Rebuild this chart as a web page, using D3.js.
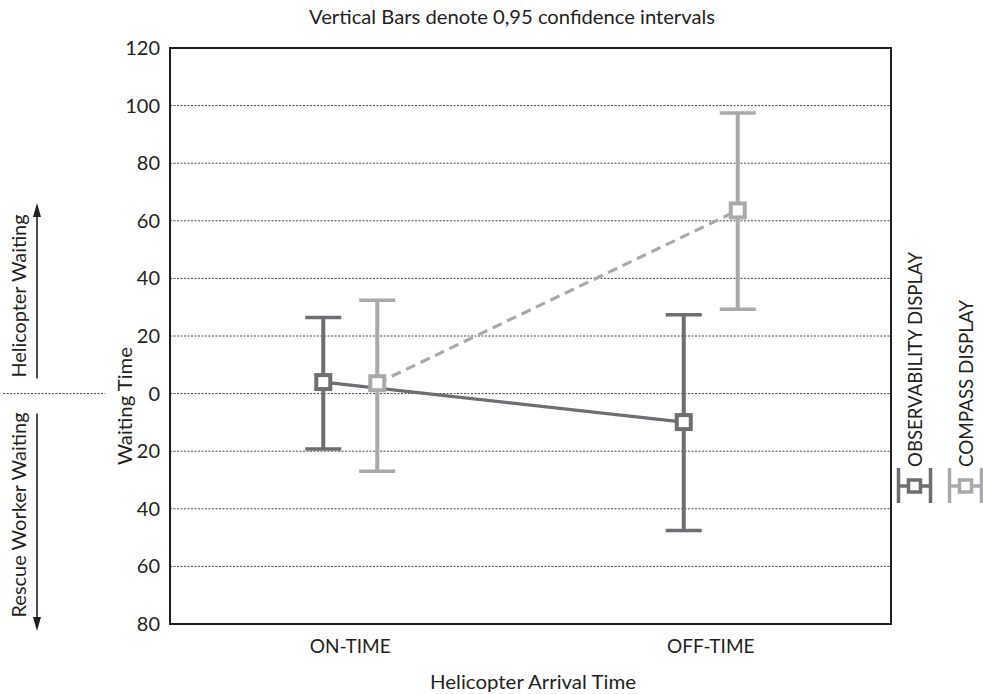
<!DOCTYPE html>
<html><head><meta charset="utf-8">
<script src="https://cdn.jsdelivr.net/npm/d3@7"></script>
<style>
body{margin:0;background:#fff}
text{font-family:Lato,"Open Sans",sans-serif;fill:#231f20}
</style>
</head><body>
<svg id="c" width="983" height="694"></svg>
<script>
const categories = ["ON-TIME", "OFF-TIME"];
const seriesNames = ["OBSERVABILITY DISPLAY", "COMPASS DISPLAY"];
const obsMean = [4.0, -9.9];
const obsLow = [-19.2, -47.5];
const obsHigh = [26.4, 27.4];
const cmpMean = [3.6, 63.6];
const cmpLow = [-27.0, 29.3];
const cmpHigh = [32.4, 97.4];
const yTicks = [-80, -60, -40, -20, 0, 20, 40, 60, 80, 100, 120];

const series = [
  {name: seriesNames[0], mean: obsMean, low: obsLow, high: obsHigh, color: "#6d6e71", dash: null},
  {name: seriesNames[1], mean: cmpMean, low: cmpLow, high: cmpHigh, color: "#a7a9ac", dash: "10,6"}
];

const svg = d3.select("#c");
const L = 170, R = 891, T = 48, B = 624;
const x = d3.scaleBand().domain(categories).range([L, R]);
const xs = d3.scalePoint().domain(seriesNames).range([-27, 27]);
const y = d3.scaleLinear().domain([-80, 120]).range([B, T]);
const cx = (c, s) => x(c) + x.bandwidth() / 2 + xs(s);

// gridlines
svg.append("g").selectAll("line")
  .data(yTicks.filter(d => d > -80 && d < 120))
  .join("line")
  .attr("x1", L).attr("x2", R)
  .attr("y1", d => y(d)).attr("y2", d => y(d))
  .attr("stroke", "#444").attr("stroke-width", 1).attr("stroke-dasharray", "2,1.5");

// y axis
const ya = svg.append("g").attr("transform", `translate(${L},0)`)
  .call(d3.axisLeft(y).tickValues(yTicks).tickFormat(d => Math.abs(d)).tickSize(0).tickPadding(10));
ya.select(".domain").remove();
ya.selectAll("text").attr("font-size", 20).attr("font-family", "Lato").attr("fill", "#231f20");

// x axis
const xa = svg.append("g").attr("transform", `translate(0,${B})`)
  .call(d3.axisBottom(x).tickSize(0).tickPadding(0));
xa.select(".domain").remove();
xa.selectAll("text").attr("font-size", 19).attr("font-family", "Lato").attr("fill", "#231f20")
  .attr("dy", 0).attr("y", 29);

// border
svg.append("rect").attr("x", L).attr("y", T).attr("width", R - L).attr("height", B - T)
  .attr("fill", "none").attr("stroke", "#231f20").attr("stroke-width", 2);

// connecting lines
const line = d3.line().x(d => d[0]).y(d => d[1]);
series.forEach(s => {
  svg.append("path")
    .attr("d", line(categories.map((c, i) => [cx(c, s.name), y(s.mean[i])])))
    .attr("fill", "none").attr("stroke", s.color).attr("stroke-width", 3.2)
    .attr("stroke-dasharray", s.dash);
});

// error bars + markers
series.forEach(s => {
  const g = svg.append("g");
  categories.forEach((c, i) => {
    const px = cx(c, s.name);
    g.append("line").attr("x1", px).attr("x2", px).attr("y1", y(s.low[i])).attr("y2", y(s.high[i]))
      .attr("stroke", s.color).attr("stroke-width", 4);
    [s.low[i], s.high[i]].forEach(v => {
      g.append("line").attr("x1", px - 18).attr("x2", px + 18).attr("y1", y(v)).attr("y2", y(v))
        .attr("stroke", s.color).attr("stroke-width", 3.5);
    });
    g.append("rect").attr("x", px - 7).attr("y", y(s.mean[i]) - 7).attr("width", 14).attr("height", 14)
      .attr("fill", "#fff").attr("stroke", s.color).attr("stroke-width", 4);
  });
});

// legend
series.forEach((s, i) => {
  const bx = 922 + i * 51, by = 467;
  svg.append("text").attr("transform", `translate(${bx},${by}) rotate(-90)`)
    .attr("font-size", 19).attr("textLength", i === 0 ? 215 : 167).attr("lengthAdjust", "spacingAndGlyphs")
    .text(s.name);
  const ix = bx - 7.5, iy = 486;
  const g = svg.append("g").attr("stroke", s.color);
  g.append("line").attr("x1", ix - 16).attr("x2", ix + 16).attr("y1", iy).attr("y2", iy).attr("stroke-width", 3.5);
  g.append("line").attr("x1", ix - 16).attr("x2", ix - 16).attr("y1", iy - 18).attr("y2", iy + 17).attr("stroke-width", 3.5);
  g.append("line").attr("x1", ix + 16).attr("x2", ix + 16).attr("y1", iy - 18).attr("y2", iy + 17).attr("stroke-width", 3.5);
  g.append("rect").attr("x", ix - 6).attr("y", iy - 6).attr("width", 12).attr("height", 12)
    .attr("fill", "#fff").attr("stroke-width", 3.5);
});

// titles
svg.append("text").attr("x", 512).attr("y", 24).attr("text-anchor", "middle").attr("font-size", 19)
  .attr("textLength", 406).attr("lengthAdjust", "spacingAndGlyphs")
  .text("Vertical Bars denote 0,95 confidence intervals");
svg.append("text").attr("x", 533).attr("y", 689).attr("text-anchor", "middle").attr("font-size", 19)
  .attr("textLength", 206).attr("lengthAdjust", "spacingAndGlyphs")
  .text("Helicopter Arrival Time");
svg.append("text").attr("transform", "translate(132,406) rotate(-90)").attr("text-anchor", "middle")
  .attr("font-size", 19).attr("textLength", 118).attr("lengthAdjust", "spacingAndGlyphs")
  .text("Waiting Time");

// left annotations
const y0 = y(0);
svg.append("line").attr("x1", 3).attr("x2", 105).attr("y1", y0).attr("y2", y0)
  .attr("stroke", "#444").attr("stroke-width", 1).attr("stroke-dasharray", "2,1.5");
svg.append("text").attr("transform", "translate(26,296) rotate(-90)").attr("text-anchor", "middle")
  .attr("font-size", 19).attr("textLength", 163).attr("lengthAdjust", "spacingAndGlyphs")
  .text("Helicopter Waiting");
svg.append("text").attr("transform", "translate(26,515) rotate(-90)").attr("text-anchor", "middle")
  .attr("font-size", 19).attr("textLength", 205).attr("lengthAdjust", "spacingAndGlyphs")
  .text("Rescue Worker Waiting");
const ax = 37;
svg.append("line").attr("x1", ax).attr("x2", ax).attr("y1", y0 - 15).attr("y2", 214)
  .attr("stroke", "#231f20").attr("stroke-width", 1.6);
svg.append("path").attr("d", `M${ax},203 L${ax - 4},217 L${ax + 4},217 Z`).attr("fill", "#231f20");
svg.append("line").attr("x1", ax).attr("x2", ax).attr("y1", y0 + 20).attr("y2", 620)
  .attr("stroke", "#231f20").attr("stroke-width", 1.6);
svg.append("path").attr("d", `M${ax},631 L${ax - 4},617 L${ax + 4},617 Z`).attr("fill", "#231f20");
</script>
</body></html>
